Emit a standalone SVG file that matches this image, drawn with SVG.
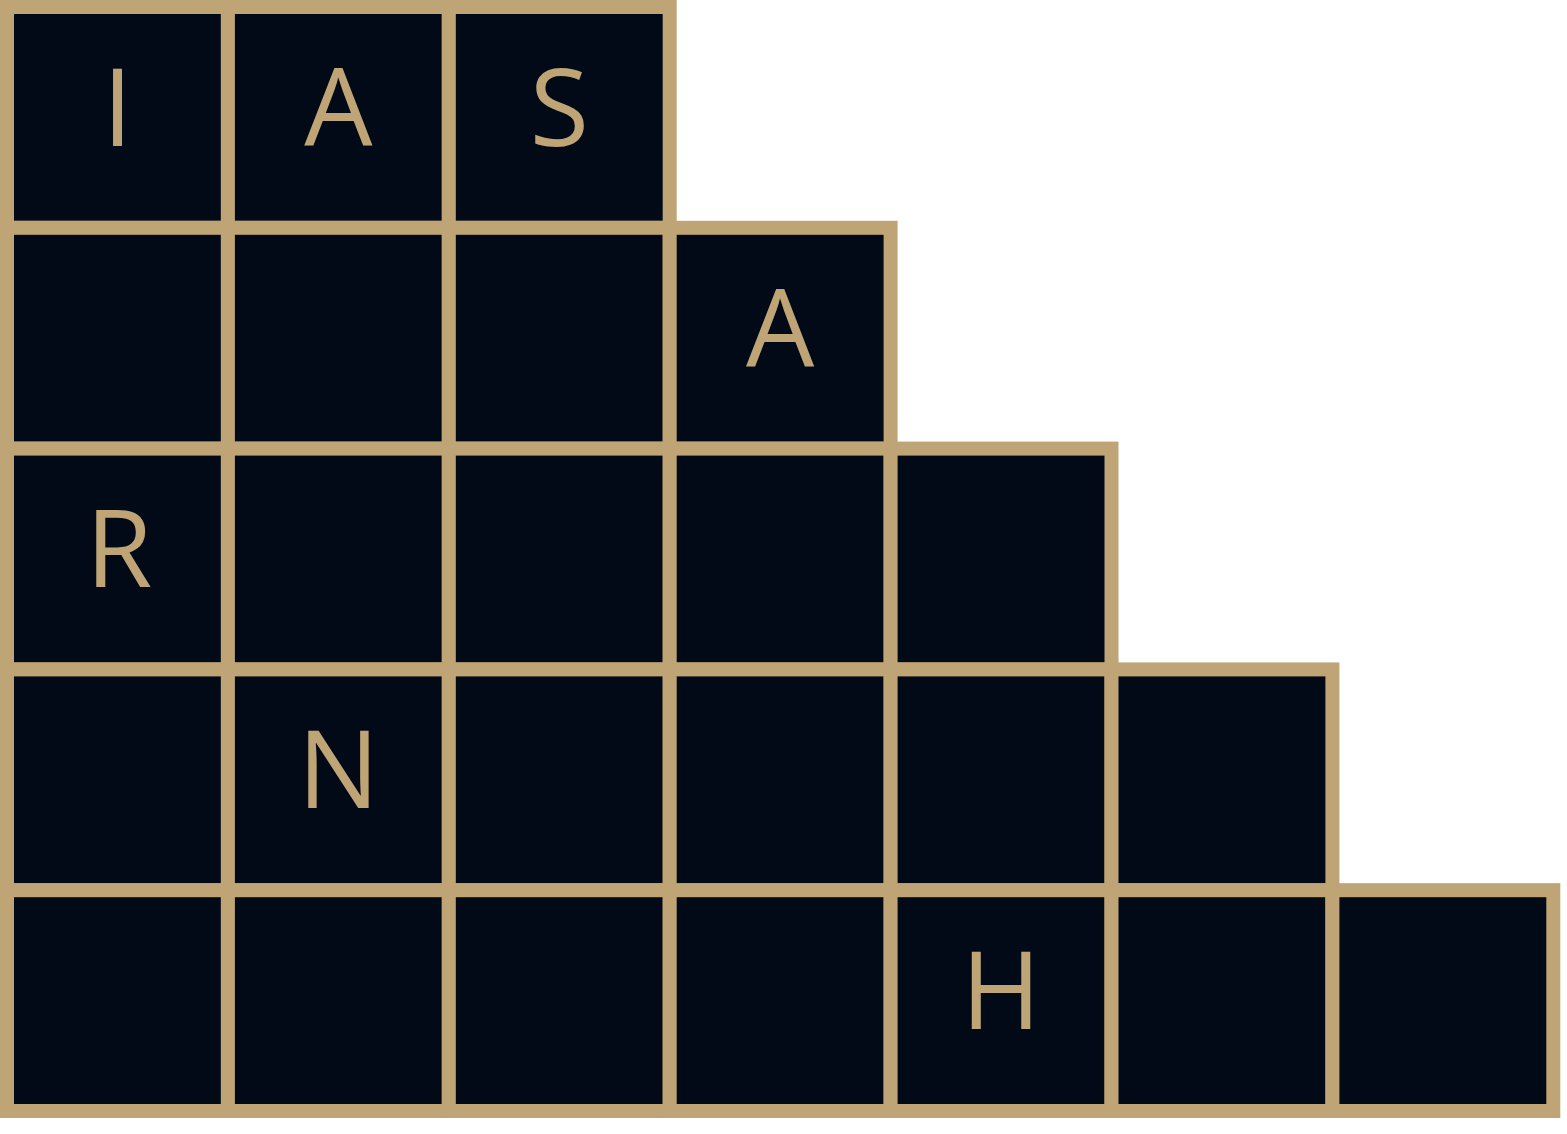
<svg xmlns="http://www.w3.org/2000/svg" width="1567" height="1134" viewBox="0 0 1567 1134">
<style>
.c{fill:#030a17;stroke:#bfa476;stroke-width:14}
.t{fill:#bfa476;font-family:"Open Sans","Noto Sans",sans-serif;font-size:108px;text-anchor:middle}
</style>
<rect width="1567" height="1134" fill="#ffffff"/>
<g id="row0">
<rect id="r0c0" class="c" x="7" y="7" width="220.9" height="220.8"/>
<rect id="r0c1" class="c" x="227.9" y="7" width="220.9" height="220.8"/>
<rect id="r0c2" class="c" x="448.8" y="7" width="220.9" height="220.8"/>
</g>
<g id="row1">
<rect id="r1c0" class="c" x="7" y="227.8" width="220.9" height="220.8"/>
<rect id="r1c1" class="c" x="227.9" y="227.8" width="220.9" height="220.8"/>
<rect id="r1c2" class="c" x="448.8" y="227.8" width="220.9" height="220.8"/>
<rect id="r1c3" class="c" x="669.7" y="227.8" width="220.9" height="220.8"/>
</g>
<g id="row2">
<rect id="r2c0" class="c" x="7" y="448.6" width="220.9" height="220.8"/>
<rect id="r2c1" class="c" x="227.9" y="448.6" width="220.9" height="220.8"/>
<rect id="r2c2" class="c" x="448.8" y="448.6" width="220.9" height="220.8"/>
<rect id="r2c3" class="c" x="669.7" y="448.6" width="220.9" height="220.8"/>
<rect id="r2c4" class="c" x="890.6" y="448.6" width="220.9" height="220.8"/>
</g>
<g id="row3">
<rect id="r3c0" class="c" x="7" y="669.4" width="220.9" height="220.8"/>
<rect id="r3c1" class="c" x="227.9" y="669.4" width="220.9" height="220.8"/>
<rect id="r3c2" class="c" x="448.8" y="669.4" width="220.9" height="220.8"/>
<rect id="r3c3" class="c" x="669.7" y="669.4" width="220.9" height="220.8"/>
<rect id="r3c4" class="c" x="890.6" y="669.4" width="220.9" height="220.8"/>
<rect id="r3c5" class="c" x="1111.5" y="669.4" width="220.9" height="220.8"/>
</g>
<g id="row4">
<rect id="r4c0" class="c" x="7" y="890.2" width="220.9" height="220.8"/>
<rect id="r4c1" class="c" x="227.9" y="890.2" width="220.9" height="220.8"/>
<rect id="r4c2" class="c" x="448.8" y="890.2" width="220.9" height="220.8"/>
<rect id="r4c3" class="c" x="669.7" y="890.2" width="220.9" height="220.8"/>
<rect id="r4c4" class="c" x="890.6" y="890.2" width="220.9" height="220.8"/>
<rect id="r4c5" class="c" x="1111.5" y="890.2" width="220.9" height="220.8"/>
<rect id="r4c6" class="c" x="1332.4" y="890.2" width="220.9" height="220.8"/>
</g>
<g id="letters">
<text class="t" x="117.5" y="146">I</text>
<text class="t" x="338.4" y="146">A</text>
<text class="t" x="559.3" y="146">S</text>
<text class="t" x="780.2" y="367">A</text>
<text class="t" x="119" y="587">R</text>
<text class="t" x="338.4" y="808">N</text>
<text class="t" x="1001" y="1029">H</text>
</g>
</svg>
